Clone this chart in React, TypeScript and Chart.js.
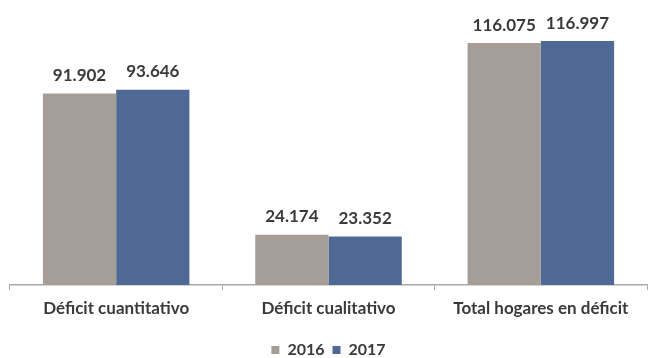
import React, { useEffect, useRef } from "react";
import { Chart, registerables } from "chart.js";

Chart.register(...registerables);

const categories = ["Déficit cuantitativo", "Déficit cualitativo", "Total hogares en déficit"];
const series2016 = [91.902, 24.174, 116.075];
const series2017 = [93.646, 23.352, 116.997];
const seriesNames = ["2016", "2017"];
const valueLabels2016 = ["91.902", "24.174", "116.075"];
const valueLabels2017 = ["93.646", "23.352", "116.997"];

const GRAY = "#a59d98";
const BLUE = "#4e6a94";
const TEXT = "#3a3a3a";
const AXIS = "#a8a8a8";

const labelPlugin = {
  id: "valueLabels",
  afterDatasetsDraw(chart: any) {
    const ctx = chart.ctx;
    const labels = [valueLabels2016, valueLabels2017];
    ctx.save();
    ctx.font = "bold 17px Lato";
    ctx.fillStyle = TEXT;
    ctx.textAlign = "center";
    ctx.textBaseline = "middle";
    chart.data.datasets.forEach((ds: any, di: number) => {
      const meta = chart.getDatasetMeta(di);
      meta.data.forEach((el: any, i: number) => {
        ctx.fillText(labels[di][i], el.x, el.y - 18);
      });
    });
    ctx.restore();
  },
};

export default function App() {
  const ref = useRef<HTMLCanvasElement>(null);
  useEffect(() => {
    document.body.style.margin = "0";
    const chart = new Chart(ref.current!, {
      type: "bar",
      data: {
        labels: categories,
        datasets: [
          { label: seriesNames[0], data: series2016, backgroundColor: GRAY, categoryPercentage: 0.69, barPercentage: 1 },
          { label: seriesNames[1], data: series2017, backgroundColor: BLUE, categoryPercentage: 0.69, barPercentage: 1 },
        ],
      },
      options: {
        animation: false,
        responsive: false,
        maintainAspectRatio: false,
        layout: { padding: { left: 10, right: 3, top: 14, bottom: -10 } },
        plugins: {
          legend: {
            position: "bottom",
            title: { display: true, text: "", padding: 0, font: { size: 10, lineHeight: 0.75 } },
            labels: {
              boxWidth: 8,
              boxHeight: 8,
              padding: 8,
              color: TEXT,
              font: { family: "Lato", size: 16, weight: "bold" },
            },
          },
          tooltip: { enabled: false },
        },
        scales: {
          x: {
            grid: {
              offset: true,
              drawOnChartArea: false,
              drawTicks: true,
              tickLength: 5,
              color: AXIS,
            },
            border: { display: true, color: AXIS, width: 1.5 },
            ticks: {
              color: TEXT,
              padding: 8,
              font: { family: "Lato", size: 17, weight: "bold" },
              maxRotation: 0,
            },
          },
          y: { display: false, min: 0, max: 130 },
        },
      },
      plugins: [labelPlugin],
    });
    return () => chart.destroy();
  }, []);
  return (
    <div style={{ width: 650, height: 358 }}>
      <canvas ref={ref} width={650} height={358} />
    </div>
  );
}
